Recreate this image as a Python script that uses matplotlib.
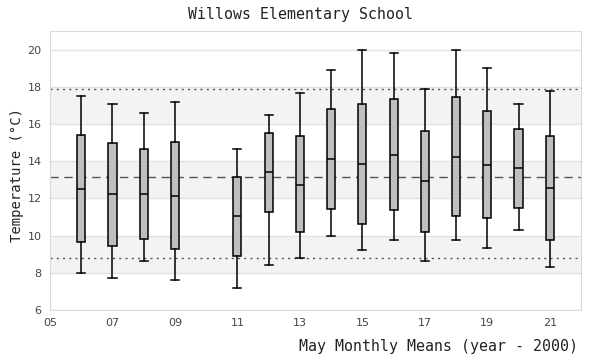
import numpy as np
import matplotlib
matplotlib.use('Agg')
import matplotlib.pyplot as plt

# data (year - 2000)
years = [6, 7, 8, 9, 11, 12, 13, 14, 15, 16, 17, 18, 19, 20, 21]
whis_lo = [7.97, 7.70, 8.61, 7.59, 7.16, 8.40, 8.77, 10.00, 9.20, 9.79, 8.66, 9.79, 9.31, 10.28, 8.29]
q1 = [9.65, 9.42, 9.83, 9.26, 8.93, 11.29, 10.17, 11.45, 10.65, 11.35, 10.22, 11.03, 10.92, 11.51, 9.74]
med = [12.53, 12.21, 12.26, 12.15, 11.03, 13.44, 12.74, 14.14, 13.87, 14.35, 12.96, 14.25, 13.82, 13.65, 12.58]
q3 = [15.43, 15.00, 14.67, 15.05, 13.13, 15.53, 15.37, 16.82, 17.09, 17.36, 15.64, 17.46, 16.71, 15.75, 15.37]
whis_hi = [17.50, 17.09, 16.60, 17.19, 14.67, 16.50, 17.68, 18.91, 19.98, 19.82, 17.89, 20.00, 19.02, 17.09, 17.79]

mean_line = 13.13
upper_line = 17.89
lower_line = 8.77
bands = [(8, 10), (12, 14), (16, 18)]
xticks = [5, 7, 9, 11, 13, 15, 17, 19, 21]
yticks = [6, 8, 10, 12, 14, 16, 18, 20]

stats = []
for i in range(len(years)):
    stats.append({'whislo': whis_lo[i], 'q1': q1[i], 'med': med[i],
                  'q3': q3[i], 'whishi': whis_hi[i], 'fliers': []})

fig = plt.figure(figsize=(6, 3.6), dpi=100)
ax = fig.add_axes([50/600, 50/360, 531/600, 279/360])

for lo, hi in bands:
    ax.axhspan(lo, hi, color='#f3f3f3', zorder=0, lw=0)
for y in yticks:
    ax.axhline(y, color='#e2e2e2', lw=1, zorder=0.5)

ax.axhline(mean_line, color='#555555', lw=1, ls=(0, (6, 4)), zorder=1)
ax.axhline(upper_line, color='#555555', lw=1, ls=(0, (1.5, 3)), zorder=1)
ax.axhline(lower_line, color='#555555', lw=1, ls=(0, (1.5, 3)), zorder=1)

ax.bxp(stats, positions=years, widths=0.26, capwidths=0.26, patch_artist=True,
       showfliers=False, manage_ticks=False,
       boxprops=dict(facecolor='#bfbfbf', edgecolor='black', lw=1.1),
       medianprops=dict(color='black', lw=1.1),
       whiskerprops=dict(color='black', lw=1.1),
       capprops=dict(color='black', lw=1.1), zorder=3)

ax.set_xlim(5, 22)
ax.set_ylim(6, 21)
ax.set_xticks(xticks)
ax.set_xticklabels(['%02d' % t for t in xticks])
ax.set_yticks(yticks)
ax.tick_params(length=0, labelsize=8, colors='#444444', pad=6)
for s in ax.spines.values():
    s.set_color('#d9d9d9')

mono = 'DejaVu Sans Mono'
fig.text(0.5, 0.96, 'Willows Elementary School', ha='center', va='center',
         family=mono, fontsize=10.7, color='#222222')
fig.text(17/600, 1 - 175/360, 'Temperature (°C)', ha='center', va='center', rotation=90,
         family=mono, fontsize=10, color='#222222')
fig.text(578/600, 13/360, 'May Monthly Means (year - 2000)', ha='right', va='center',
         family=mono, fontsize=10.7, color='#222222')

fig.savefig('out.png', dpi=100)
